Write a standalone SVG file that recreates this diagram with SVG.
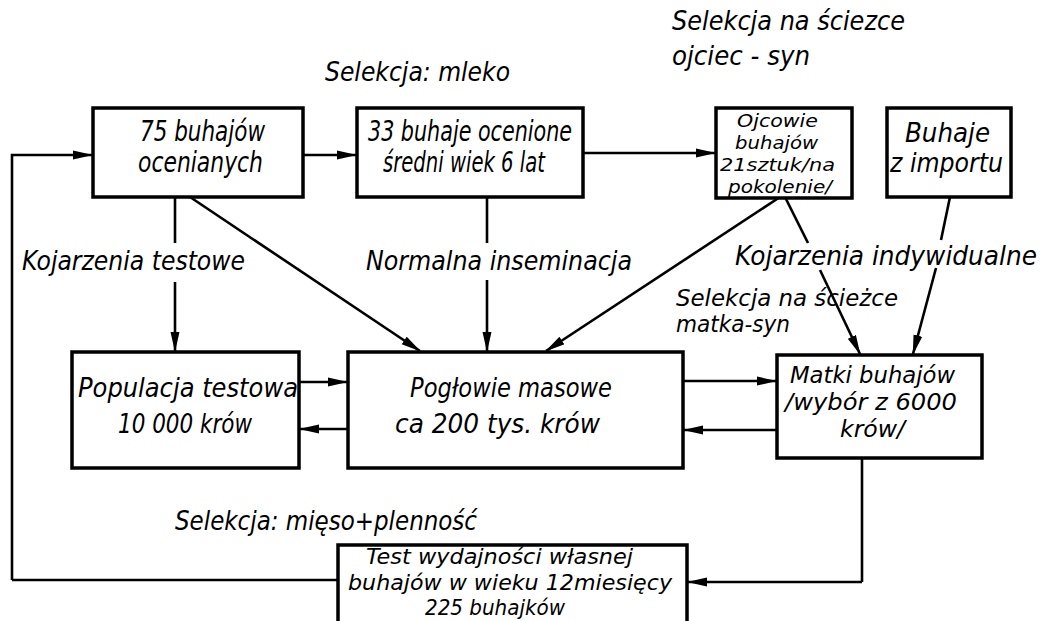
<svg xmlns="http://www.w3.org/2000/svg" width="1043" height="621" viewBox="0 0 1043 621">
<defs>
<marker id="ah" markerWidth="20" markerHeight="10" refX="19" refY="5" orient="auto" markerUnits="userSpaceOnUse">
<path d="M0,0.5 L20,5 L0,9.5 z" fill="#000"/>
</marker>
<style>
.box{fill:#fff;stroke:#000;stroke-width:3.5}
.t,.l{font-family:"DejaVu Sans Condensed","DejaVu Sans",sans-serif;font-style:italic;font-size:27px;fill:#000}
.b{font-size:29px}
.s{font-size:18.5px}
.m{font-size:21px}
.k{font-size:22.5px}
.c{fill:none;stroke:#000;stroke-width:2.6}
.ca{fill:none;stroke:#000;stroke-width:2.6;marker-end:url(#ah)}
</style>
</defs>
<rect width="1043" height="621" fill="#fff"/>
<g id="connectors">
<path class="ca" d="M12,580 L12,155 L92,155"/>
<path class="c" d="M12,580 L338,580"/>
<path class="ca" d="M303,155 L356,155"/>
<path class="ca" d="M583,153 L715,153"/>
<path class="c" d="M175,197 L175,243"/>
<path class="ca" d="M175,282 L175,351"/>
<path class="ca" d="M190,197 L420,351"/>
<path class="c" d="M487,197 L487,243"/>
<path class="ca" d="M487,280 L487,351"/>
<path class="ca" d="M780,197 L546,351"/>
<path class="c" d="M785,197 L808,243"/>
<path class="ca" d="M820,270 L860,354"/>
<path class="c" d="M950,197 L941,240"/>
<path class="ca" d="M936,268 L913,354"/>
<path class="ca" d="M299,382 L347,382"/>
<path class="ca" d="M348,429 L300,429"/>
<path class="ca" d="M683,381 L776,381"/>
<path class="ca" d="M777,430 L684,430"/>
<path class="c" d="M862,458 L862,582"/>
<path class="ca" d="M862,582 L688,582"/>
</g>
<g id="n1"><rect class="box" x="93" y="108" width="210" height="89"/>
<text class="t b" x="140" y="141" textLength="125" lengthAdjust="spacingAndGlyphs">75 buhajów</text>
<text class="t b" x="138" y="172" textLength="125" lengthAdjust="spacingAndGlyphs">ocenianych</text></g>
<g id="n2"><rect class="box" x="357" y="108" width="226" height="89"/>
<text class="t b" x="368" y="141" textLength="204" lengthAdjust="spacingAndGlyphs">33 buhaje ocenione</text>
<text class="t b" x="383" y="172" textLength="162" lengthAdjust="spacingAndGlyphs">średni wiek 6 lat</text></g>
<g id="n3"><rect class="box" x="716" y="108" width="136" height="90"/>
<text class="t s" x="737" y="127" textLength="81" lengthAdjust="spacingAndGlyphs">Ojcowie</text>
<text class="t s" x="735" y="149" textLength="83" lengthAdjust="spacingAndGlyphs">buhajów</text>
<text class="t s" x="720" y="171" textLength="115" lengthAdjust="spacingAndGlyphs">21sztuk/na</text>
<text class="t s" x="728" y="193" textLength="104" lengthAdjust="spacingAndGlyphs">pokolenie/</text></g>
<g id="n4"><rect class="box" x="887" y="108" width="124" height="89"/>
<text class="t" x="905" y="142" textLength="85" lengthAdjust="spacingAndGlyphs">Buhaje</text>
<text class="t" x="890" y="172" textLength="113" lengthAdjust="spacingAndGlyphs">z importu</text></g>
<g id="n5"><rect class="box" x="72" y="352" width="227" height="116"/>
<text class="t" x="78" y="397" textLength="220" lengthAdjust="spacingAndGlyphs">Populacja testowa</text>
<text class="t" x="118" y="433" textLength="134" lengthAdjust="spacingAndGlyphs">10 000 krów</text></g>
<g id="n6"><rect class="box" x="348" y="352" width="335" height="116"/>
<text class="t" x="410" y="397" textLength="202" lengthAdjust="spacingAndGlyphs">Pogłowie masowe</text>
<text class="t" x="395" y="433" textLength="205" lengthAdjust="spacingAndGlyphs">ca 200 tys. krów</text></g>
<g id="n7"><rect class="box" x="777" y="355" width="205" height="103"/>
<text class="t k" x="790" y="383" textLength="165" lengthAdjust="spacingAndGlyphs">Matki buhajów</text>
<text class="t k" x="785" y="410" textLength="172" lengthAdjust="spacingAndGlyphs">/wybór z 6000</text>
<text class="t k" x="840" y="437" textLength="65" lengthAdjust="spacingAndGlyphs">krów/</text></g>
<g id="n8"><rect class="box" x="338" y="545" width="349" height="80"/>
<text class="t m" x="366" y="564" textLength="267" lengthAdjust="spacingAndGlyphs">Test wydajności własnej</text>
<text class="t m" x="348" y="590" textLength="324" lengthAdjust="spacingAndGlyphs">buhajów w wieku 12miesięcy</text>
<text class="t m" x="425" y="615" textLength="140" lengthAdjust="spacingAndGlyphs">225 buhajków</text></g>
<g id="labels">
<text class="l" x="325" y="81" textLength="185" lengthAdjust="spacingAndGlyphs">Selekcja: mleko</text>
<text class="l" x="672" y="30" textLength="233" lengthAdjust="spacingAndGlyphs">Selekcja na ściezce</text>
<text class="l" x="672" y="65" textLength="138" lengthAdjust="spacingAndGlyphs">ojciec - syn</text>
<text class="l" x="22" y="270" textLength="223" lengthAdjust="spacingAndGlyphs">Kojarzenia testowe</text>
<text class="l" x="366" y="270" textLength="266" lengthAdjust="spacingAndGlyphs">Normalna inseminacja</text>
<text class="l" x="735" y="265" textLength="302" lengthAdjust="spacingAndGlyphs">Kojarzenia indywidualne</text>
<text class="l k" x="676" y="306" textLength="222" lengthAdjust="spacingAndGlyphs">Selekcja na ścieżce</text>
<text class="l k" x="676" y="332" textLength="114" lengthAdjust="spacingAndGlyphs">matka-syn</text>
<text class="l" x="175" y="530" textLength="302" lengthAdjust="spacingAndGlyphs">Selekcja: mięso+plenność</text>
</g>
</svg>
